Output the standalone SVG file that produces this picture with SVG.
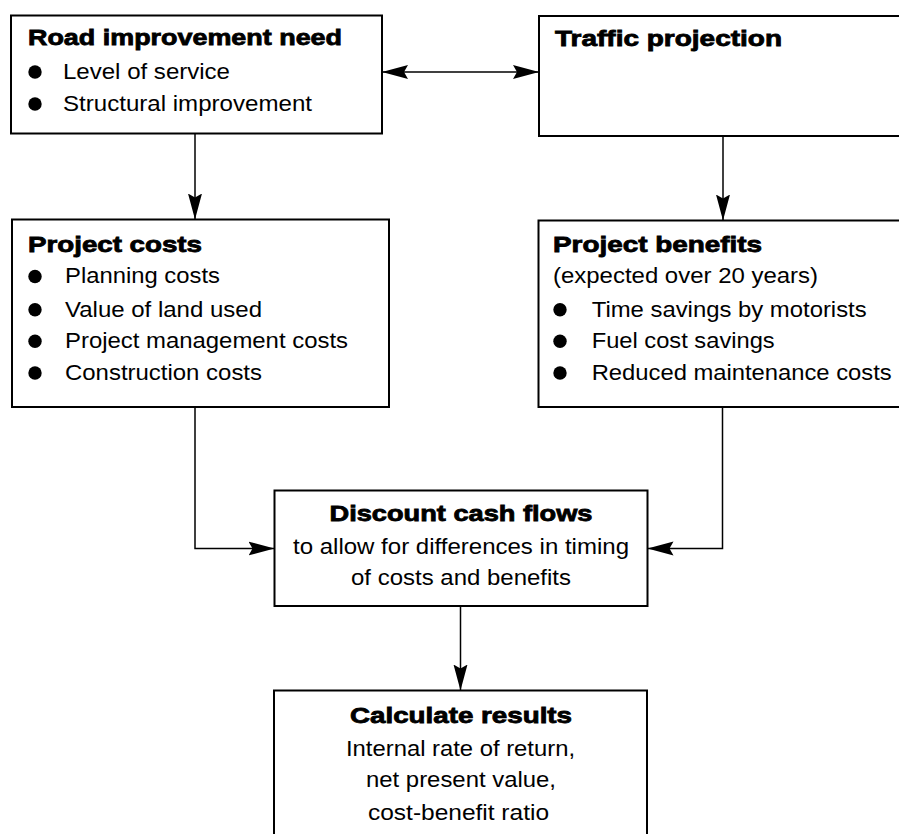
<svg xmlns="http://www.w3.org/2000/svg" width="899" height="834" viewBox="0 0 899 834">
<style>
.box{fill:#fff;stroke:#000;stroke-width:2}
.con{fill:none;stroke:#000;stroke-width:1.5}
.t{font-family:"Liberation Sans",Arial,Helvetica,sans-serif;font-weight:700;font-size:22px;fill:#000;stroke:#000;stroke-width:0.8}
.r{font-family:"Liberation Sans",Arial,Helvetica,sans-serif;font-size:22px;fill:#000}
.c{text-anchor:middle}
.b{fill:#000}
</style>
<defs>
<marker id="ah" markerUnits="userSpaceOnUse" markerWidth="27" markerHeight="15" refX="26" refY="7.5" orient="auto-start-reverse" viewBox="0 0 27 15">
<path d="M0,0.5 L26,7.5 L0,14.5 L4,7.5 z" fill="#000"/>
</marker>
</defs>
<rect width="899" height="834" fill="#fff"/>
<g id="connectors">
<line class="con" x1="382" y1="72" x2="539" y2="72" marker-start="url(#ah)" marker-end="url(#ah)"/>
<path class="con" d="M195,133.5 V219.5" marker-end="url(#ah)"/>
<path class="con" d="M723,136 V220.5" marker-end="url(#ah)"/>
<path class="con" d="M195,407 V548.5 H274.5" marker-end="url(#ah)"/>
<path class="con" d="M722.5,407 V548.5 H647.5" marker-end="url(#ah)"/>
<path class="con" d="M460.5,606 V690.5" marker-end="url(#ah)"/>
</g>
<g id="road-need">
<rect class="box" x="11" y="15.5" width="371" height="118"/>
<text class="t" x="28" y="45" textLength="314" lengthAdjust="spacingAndGlyphs">Road improvement need</text>
<circle class="b" cx="35" cy="72" r="6.7"/>
<text class="r" x="63" y="79" textLength="167" lengthAdjust="spacingAndGlyphs">Level of service</text>
<circle class="b" cx="35" cy="104" r="6.7"/>
<text class="r" x="63" y="111" textLength="249" lengthAdjust="spacingAndGlyphs">Structural improvement</text>
</g>
<g id="traffic">
<rect class="box" x="539" y="16" width="380" height="120"/>
<text class="t" x="555" y="46" textLength="227" lengthAdjust="spacingAndGlyphs">Traffic projection</text>
</g>
<g id="costs">
<rect class="box" x="12" y="219.5" width="377" height="187.5"/>
<text class="t" x="28" y="251.7" textLength="174" lengthAdjust="spacingAndGlyphs">Project costs</text>
<circle class="b" cx="35" cy="276.5" r="6.7"/>
<text class="r" x="65" y="283.3" textLength="155" lengthAdjust="spacingAndGlyphs">Planning costs</text>
<circle class="b" cx="35" cy="309.7" r="6.7"/>
<text class="r" x="65" y="316.7" textLength="197" lengthAdjust="spacingAndGlyphs">Value of land used</text>
<circle class="b" cx="35" cy="341.3" r="6.7"/>
<text class="r" x="65" y="348.3" textLength="283" lengthAdjust="spacingAndGlyphs">Project management costs</text>
<circle class="b" cx="35" cy="373" r="6.7"/>
<text class="r" x="65" y="380" textLength="197" lengthAdjust="spacingAndGlyphs">Construction costs</text>
</g>
<g id="benefits">
<rect class="box" x="538.5" y="220.5" width="380" height="186.5"/>
<text class="t" x="553" y="251.7" textLength="209" lengthAdjust="spacingAndGlyphs">Project benefits</text>
<text class="r" x="553" y="283.3" textLength="265" lengthAdjust="spacingAndGlyphs">(expected over 20 years)</text>
<circle class="b" cx="560" cy="309.7" r="6.7"/>
<text class="r" x="591.7" y="316.7" textLength="275" lengthAdjust="spacingAndGlyphs">Time savings by motorists</text>
<circle class="b" cx="560" cy="341.3" r="6.7"/>
<text class="r" x="591.7" y="348.3" textLength="183" lengthAdjust="spacingAndGlyphs">Fuel cost savings</text>
<circle class="b" cx="560" cy="373" r="6.7"/>
<text class="r" x="591.7" y="380" textLength="300" lengthAdjust="spacingAndGlyphs">Reduced maintenance costs</text>
</g>
<g id="discount">
<rect class="box" x="274.5" y="490.5" width="373" height="115.5"/>
<text class="t c" x="461" y="521" textLength="263" lengthAdjust="spacingAndGlyphs">Discount cash flows</text>
<text class="r c" x="461" y="553.5" textLength="336" lengthAdjust="spacingAndGlyphs">to allow for differences in timing</text>
<text class="r c" x="461" y="585" textLength="220" lengthAdjust="spacingAndGlyphs">of costs and benefits</text>
</g>
<g id="calculate">
<rect class="box" x="274" y="690.5" width="373" height="200"/>
<text class="t c" x="461" y="723.3" textLength="222" lengthAdjust="spacingAndGlyphs">Calculate results</text>
<text class="r c" x="460.5" y="755.7" textLength="229" lengthAdjust="spacingAndGlyphs">Internal rate of return,</text>
<text class="r c" x="461" y="786.7" textLength="190" lengthAdjust="spacingAndGlyphs">net present value,</text>
<text class="r c" x="458.5" y="820" textLength="181" lengthAdjust="spacingAndGlyphs">cost-benefit ratio</text>
</g>
</svg>
